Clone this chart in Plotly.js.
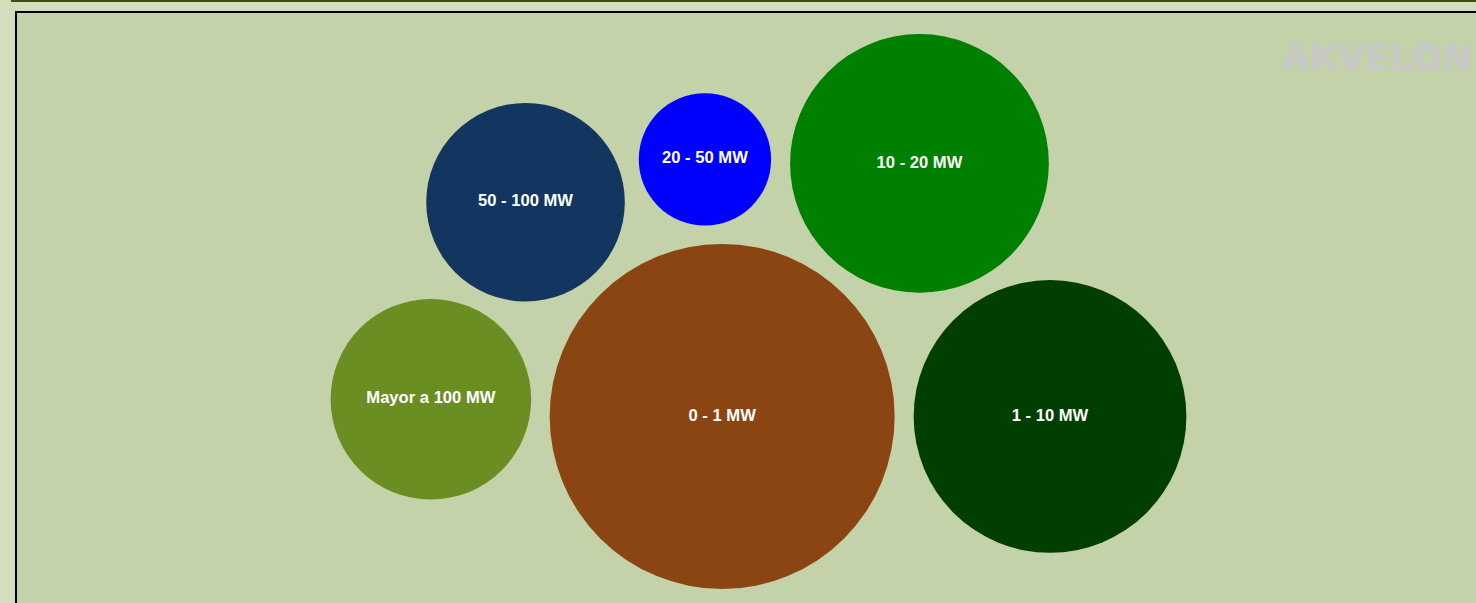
<!DOCTYPE html>
<html>
<head>
<meta charset="utf-8">
<script src="https://cdn.plot.ly/plotly-3.0.1.min.js"></script>
<style>
  html, body { margin: 0; padding: 0; background: #d5ddbf; overflow: hidden; }
  #chart { width: 1476px; height: 603px; }
</style>
</head>
<body>
<div id="chart"></div>
<script>
// ---- data ----
const categories = ["0 - 1 MW", "1 - 10 MW", "10 - 20 MW", "20 - 50 MW", "50 - 100 MW", "Mayor a 100 MW"];
const values = [100, 62.5, 56.25, 14.72, 33.13, 33.8];
const colors = ["#8b4513", "#003f00", "#008000", "#0000ff", "#12365f", "#6b8e23"];

// ---- layout parameters (pixels) ----
const W = 1476, H = 603;
const MAX_R = 172.5;     // radius of the largest bubble
const GAP = 19;          // gap between neighbouring bubbles
const CENTER = [758.5, 311.5]; // centre of the plotting frame

// ---- packed bubble placement ----
const vmax = Math.max(...values);
const radii = values.map(v => MAX_R * Math.sqrt(v / vmax));
const iBig = values.indexOf(vmax);
const pos = new Array(values.length);
pos[iBig] = [0, 0, 0];
const rest = values.map((v, i) => i).filter(i => i !== iBig);
let angle = 0, prev = null;
rest.forEach(i => {
  const d = radii[iBig] + radii[i] + GAP;
  if (prev !== null) {
    const dp = radii[iBig] + radii[prev] + GAP;
    const dn = radii[prev] + radii[i] + GAP;
    const c = (dp * dp + d * d - dn * dn) / (2 * dp * d);
    angle += Math.acos(Math.max(-1, Math.min(1, c)));
  }
  pos[i] = [d * Math.cos(angle), -d * Math.sin(angle)];
  prev = i;
});
let xmin = Infinity, xmax = -Infinity, ymin = Infinity, ymax = -Infinity;
pos.forEach((p, i) => {
  xmin = Math.min(xmin, p[0] - radii[i]); xmax = Math.max(xmax, p[0] + radii[i]);
  ymin = Math.min(ymin, p[1] - radii[i]); ymax = Math.max(ymax, p[1] + radii[i]);
});
const ox = CENTER[0] - (xmin + xmax) / 2, oy = CENTER[1] - (ymin + ymax) / 2;
const xs = pos.map(p => p[0] + ox);
const ys = pos.map(p => p[1] + oy);

const trace = {
  type: "scatter",
  mode: "markers+text",
  x: xs,
  y: ys,
  text: categories,
  textposition: "middle center",
  textfont: { family: "Liberation Sans, Arial, sans-serif", size: 16.6, color: "#ffffff", weight: "bold" },
  marker: { size: radii.map(r => 2 * r), sizemode: "diameter", color: colors, opacity: 1, line: { width: 0 } },
  hoverinfo: "text",
  cliponaxis: false,
  showlegend: false
};

const layout = {
  width: W, height: H,
  margin: { l: 0, r: 0, t: 0, b: 0, pad: 0 },
  paper_bgcolor: "#d5ddbf",
  plot_bgcolor: "rgba(0,0,0,0)",
  xaxis: { range: [0, W], visible: false, fixedrange: true },
  yaxis: { range: [H, 0], visible: false, fixedrange: true },
  shapes: [
    { type: "rect", xref: "x", yref: "y", x0: 11, x1: W + 10, y0: 0, y1: 2, fillcolor: "#3b5014", line: { width: 0 }, layer: "below" },
    { type: "rect", xref: "x", yref: "y", x0: 16, x1: W + 30, y0: 12, y1: H + 20, fillcolor: "#c3d2a8", line: { color: "#000000", width: 2 }, layer: "below" }
  ],
  annotations: [
    { text: "AKVELON", xref: "x", yref: "y", x: 1280, y: 57, xanchor: "left", yanchor: "middle", showarrow: false,
      font: { family: "DejaVu Sans, Liberation Sans, sans-serif", size: 36, color: "#c8c8c8", weight: "bold" } }
  ]
};

Plotly.newPlot("chart", [trace], layout, { displayModeBar: false, staticPlot: true });
</script>
</body>
</html>
